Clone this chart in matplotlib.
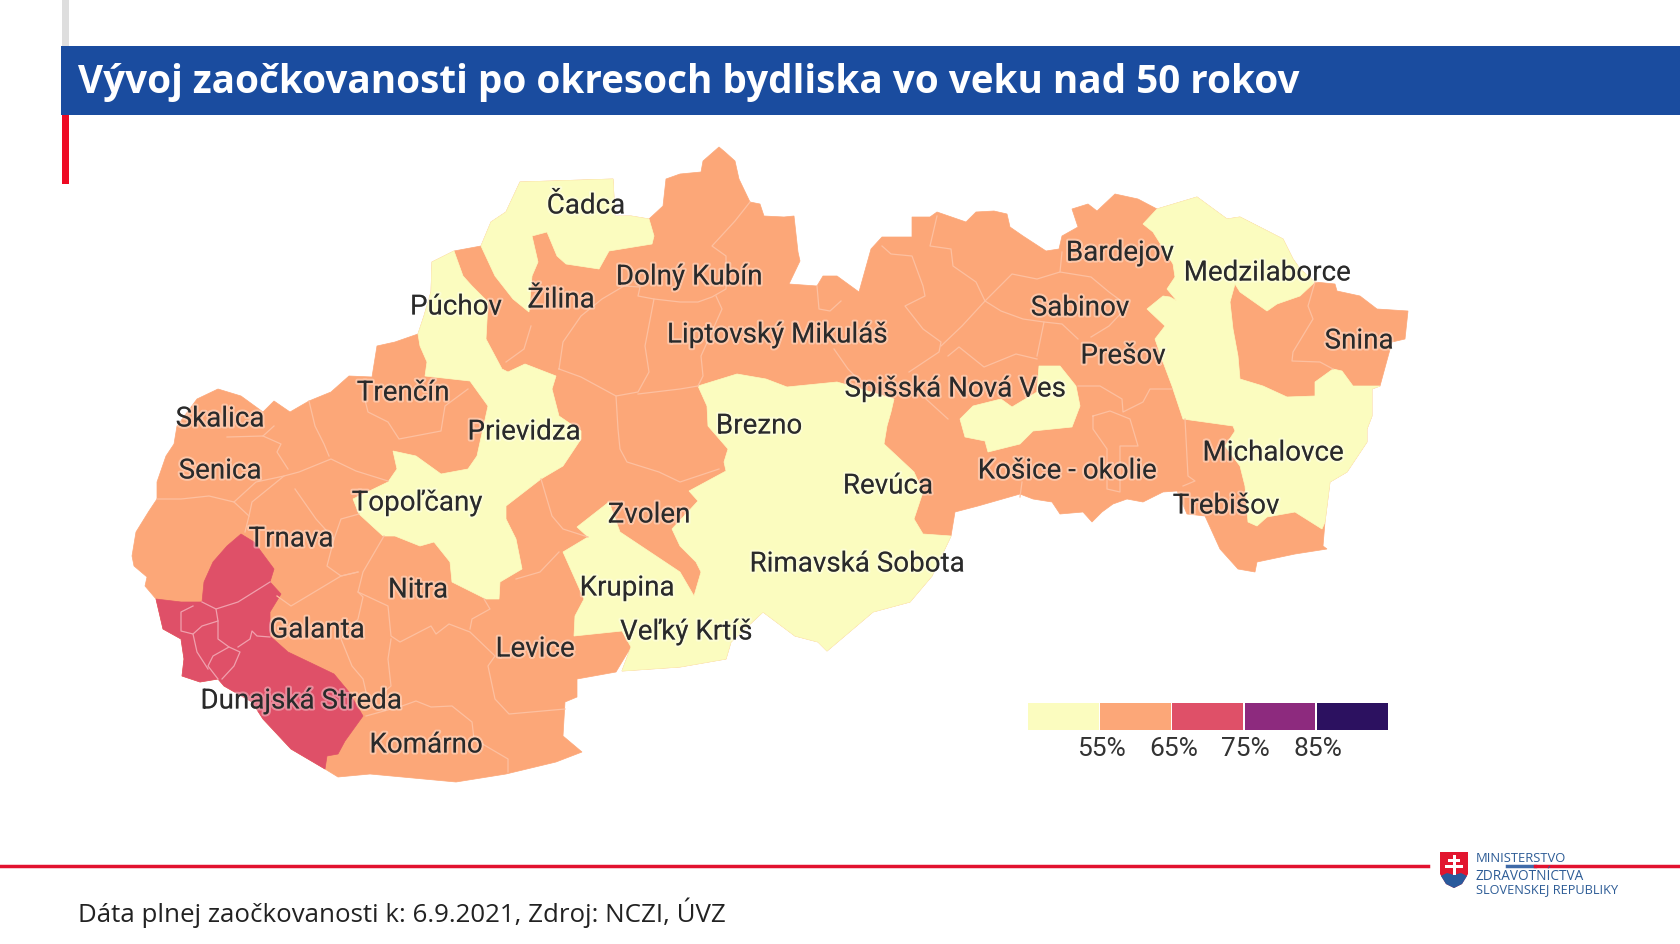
import matplotlib
matplotlib.use("Agg")
import matplotlib.pyplot as plt
import matplotlib.patheffects as pe
from matplotlib.patches import Polygon, Rectangle

plt.rcParams['font.family'] = ['Roboto', 'DejaVu Sans']

title = "Vývoj zaočkovanosti po okresoch bydliska vo veku nad 50 rokov"
source = "Dáta plnej zaočkovanosti k: 6.9.2021, Zdroj: NCZI, ÚVZ"

# legend
bin_colors = ["#fbfcbf", "#fca778", "#df5068", "#8d2a7e", "#2c1160"]
bin_labels = ["55%", "65%", "75%", "85%"]

# map geometry (pixels)
country = [(132,557),(136,533),(149,512),(157,500),(157,483),(166,457),(174,445),(177,427),(197,400),(218,390),
    (241,397),(263,413),(274,402),(290,413),(309,402),(331,393),(349,377),(372,378),(377,347),(395,343),(418,335),
    (424,317),(431,293),(432,263),(454,252),(481,247),(491,223),(506,213),(520,183),(613,180),(615,217),(631,217),
    (649,220),(663,207),(666,180),(680,175),(701,173),(703,162),(719,148),(725,153),(735,162),(739,180),(750,203),
    (760,205),(764,217),(784,218),(794,217),(798,253),(800,262),(789,285),(817,287),(823,277),(837,277),(859,293),
    (871,250),(882,238),(912,238),(912,218),(930,218),(937,213),(966,223),(976,213),(994,212),(1007,215),(1010,228),
    (1023,237),(1046,252),(1059,250),(1062,237),(1078,228),(1072,210),(1088,205),(1097,212),(1115,195),(1138,200),
    (1157,210),(1197,198),(1227,220),(1240,218),(1283,240),(1293,260),(1300,270),(1315,283),(1335,285),(1337,292),
    (1360,297),(1377,310),(1408,312),(1405,340),(1392,343),(1380,387),(1372,390),(1372,417),(1367,430),(1367,443),
    (1347,473),(1330,483),(1325,523),(1323,547),(1327,550),(1295,555),(1257,563),(1255,573),(1238,570),(1220,550),
    (1205,517),(1187,515),(1177,492),(1163,493),(1143,503),(1127,500),(1113,505),(1102,513),(1092,523),(1083,513),
    (1060,515),(1052,503),(1033,500),(1020,495),(978,507),(955,513),(951,537),(932,577),(910,603),(873,613),(827,652),
    (818,643),(795,637),(763,613),(731,643),(726,660),(680,668),(622,672),(631,648),(616,673),(577,680),(577,698),
    (565,703),(563,737),(582,753),(556,763),(506,775),(456,783),(370,775),(338,778),(325,770),(291,750),
    (263,720),(252,703),(224,687),(218,680),(200,683),(182,677),(184,660),(181,640),(163,630),(156,600),(145,587),
    (147,578),(134,567)]

yellow_north = [(481,247),(491,223),(506,213),(520,183),(613,180),(615,217),(631,217),(649,220),(654,237),(652,245),
    (609,252),(599,270),(566,265),(557,257),(547,233),(532,237),(538,263),(532,277),(529,313),(513,300),(495,277)]

yellow_west = [(418,335),(424,317),(431,293),(432,263),(454,252),(463,277),(472,287),(488,303),(486,340),(502,370),
    (508,373),(525,365),(556,377),(552,390),(559,417),(581,432),(581,440),(563,467),(541,480),(506,507),(506,520),
    (516,540),(522,570),(500,583),(499,600),(486,600),(452,583),(450,563),(434,543),(420,547),(395,537),(383,537),
    (359,515),(353,500),(388,483),(397,470),(393,452),(416,457),(441,475),(468,470),(477,457),(488,407),(470,382),
    (425,377),(427,363),(420,347)]

yellow_central = [(698,387),(737,375),(766,380),(787,388),(837,383),(851,387),(894,400),(891,413),(887,427),(884,445),
    (914,473),(923,493),(914,520),(923,535),(951,537),(932,577),(910,603),(873,613),(827,652),(818,643),(795,637),
    (763,613),(731,643),(726,660),(680,668),(622,672),(631,648),(622,632),(574,637),(575,617),(584,600),(563,553),
    (588,538),(577,528),(609,503),(620,533),(656,557),(680,573),(694,597),(701,573),(696,563),(680,547),(672,530),
    (698,502),(689,492),(726,472),(724,463),(728,450),(708,427),(707,407)]

yellow_spis = [(960,420),(973,407),(1001,400),(1012,408),(1037,393),(1039,367),(1060,367),(1076,387),(1080,407),
    (1072,428),(1033,432),(1020,445),(988,453),(985,442),(965,438)]

yellow_east = [(1157,210),(1197,198),(1227,220),(1240,218),(1283,240),(1293,260),(1300,270),(1315,283),(1300,297),
    (1277,305),(1267,312),(1240,293),(1235,285),(1230,303),(1233,330),(1238,357),(1240,380),(1263,387),(1287,398),
    (1315,397),(1315,383),(1333,370),(1342,372),(1353,387),(1380,387),(1372,390),(1372,417),(1367,430),(1367,443),
    (1347,473),(1330,483),(1325,523),(1322,530),(1295,513),(1267,518),(1257,527),(1248,523),(1245,487),(1240,467),
    (1225,447),(1235,432),(1233,427),(1183,420),(1172,387),(1163,363),(1155,340),(1165,327),(1147,310),(1163,297),
    (1170,298),(1177,302),(1167,290),(1175,278),(1173,265),(1153,233),(1143,225)]

red_southwest = [(241,535),(254,543),(274,570),(270,583),(281,595),(270,613),(270,637),(288,653),(309,663),(334,675),
    (349,693),(363,717),(345,742),(338,755),(327,757),(325,770),(291,750),(263,720),(252,703),(224,687),(218,680),
    (200,683),(182,677),(184,660),(181,640),(163,630),(156,600),(181,603),(202,603),(204,583),(213,563),(227,547)]

map_shapes = [country, yellow_north, yellow_west, yellow_central, yellow_spis, yellow_east, red_southwest]
map_bins = [1, 0, 0, 0, 0, 0, 2]

orange_borders = [
    [(750,203),(735,222),(712,247),(726,257),(726,290),(712,298),(698,303),(680,303),(654,300)],
    [(716,297),(722,310),(701,357),(703,377),(698,387)],
    [(817,287),(819,310),(830,312),(841,302)],
    [(834,350),(848,370),(855,377)],
    [(882,247),(891,255),(912,257),(923,287),(925,297),(905,307),(923,330),(941,343),(939,353),(909,373)],
    [(937,217),(930,247),(951,250),(953,267),(976,283),(985,302),(962,327),(941,347)],
    [(985,302),(1012,275),(1037,280),(1060,273),(1062,253)],
    [(1060,273),(1091,278),(1109,293),(1128,307),(1109,327),(1091,338)],
    [(985,302),(1001,312),(1023,320),(1044,323),(1037,357)],
    [(1044,323),(1062,325),(1078,340)],
    [(948,357),(959,348),(984,368),(1016,355),(1037,360)],
    [(926,400),(948,420)],
    [(1078,387),(1100,387),(1122,400),(1123,413),(1143,403),(1150,390),(1172,390)],
    [(1093,417),(1110,412),(1130,420),(1138,447),(1120,447),(1120,493),(1107,490),(1107,450),(1093,430),(1093,417)],
    [(1185,420),(1188,477),(1195,482),(1183,487)],
    [(1315,283),(1308,307),(1313,320),(1293,353),(1292,362),(1320,363),(1333,370)],
    [(157,500),(181,500),(209,497),(234,503),(256,483),(284,477),(299,473),(331,460),(356,472),(388,482)],
    [(234,503),(249,517),(245,533)],
    [(284,477),(252,503),(249,517)],
    [(295,490),(316,520),(334,540),(327,567),(341,577),(358,573)],
    [(359,515),(341,520),(334,540)],
    [(384,537),(363,573),(358,593),(388,607),(391,637),(400,643),(431,627),(436,635),(449,625),(470,633),(495,657),
     (488,667),(495,700),(509,715),(565,710)],
    [(470,630),(472,620),(490,610),(484,600)],
    [(559,553),(540,573),(516,580)],
    [(541,480),(552,517),(563,530),(588,538)],
    [(358,573),(341,577),(291,607),(277,597)],
    [(358,593),(363,598),(358,620),(341,640),(352,667),(363,680),(366,693)],
    [(391,640),(388,660),(391,687),(384,693)],
    [(366,717),(402,707),(416,702),(431,708),(452,707),(472,723),(474,740),(508,760),(508,773)],
    [(309,402),(315,427),(324,445),(329,457)],
    [(363,393),(368,413),(388,423),(399,440),(441,432),(445,407),(468,390)],
    [(227,438),(263,437),(274,427)],
    [(263,437),(281,445),(277,453),(288,470)],
    [(531,327),(524,350),(506,363)],
    [(559,370),(563,343),(581,317),(602,300),(624,287),(640,288),(638,297),(654,300),(645,347),(649,373),(638,393),
     (616,397),(581,378),(559,370)],
    [(616,397),(618,430),(620,450),(627,463),(659,473),(680,483),(719,470)],
    [(638,395),(680,390),(698,387)],
    [(1022,483),(1020,498)],
]

red_borders = [
    [(270,583),(254,593),(238,603),(216,610),(202,603)],
    [(216,610),(218,622),(202,627),(193,635),(181,632),(181,613),(193,607)],
    [(218,622),(218,640),(229,648),(213,657),(208,667),(218,680)],
    [(193,635),(197,653),(208,670)],
    [(229,648),(240,653),(234,667),(222,680)],
    [(270,638),(257,637),(252,632),(250,640),(238,648)],
]

# labels on the map
district_names = ["Čadca", "Dolný Kubín", "Žilina", "Púchov", "Liptovský Mikuláš", "Bardejov", "Medzilaborce",
    "Sabinov", "Snina", "Prešov", "Spišská Nová Ves", "Trenčín", "Skalica", "Prievidza", "Brezno", "Senica",
    "Košice - okolie", "Michalovce", "Revúca", "Topoľčany", "Trebišov", "Zvolen", "Trnava", "Rimavská Sobota",
    "Krupina", "Nitra", "Galanta", "Veľký Krtíš", "Levice", "Dunajská Streda", "Komárno"]
district_x = [586, 689, 561, 456, 777, 1120, 1267, 1080, 1359, 1123, 955, 403, 220, 524, 759, 220, 1067, 1273, 888,
    417, 1226, 649, 291, 857, 627, 418, 317, 686, 535, 301, 426]
district_y = [207, 278, 301, 308, 336, 254, 274, 309, 342, 357, 390, 394, 420, 433, 427, 472, 472, 454, 487, 504,
    507, 516, 540, 565, 589, 591, 631, 633, 650, 702, 746]

fig = plt.figure(figsize=(16.8, 9.45), dpi=100)
ax = fig.add_axes([0, 0, 1, 1])
ax.set_xlim(0, 1680)
ax.set_ylim(945, 0)
ax.axis("off")

# slide frame
ax.add_patch(Rectangle((62, 0), 7, 47, color="#dedede", lw=0))
ax.add_patch(Rectangle((62, 116), 7, 69, color="#ee0a24", lw=0))
ax.add_patch(Rectangle((61, 47), 1619, 69, color="#1a4c9f", lw=0))
ax.text(78, 82, title, color="white", fontsize=27.8, fontweight="bold", family=["Open Sans", "DejaVu Sans"],
        va="center", ha="left")

# map
for shape, b in zip(map_shapes, map_bins):
    ax.add_patch(Polygon(shape, closed=True, facecolor=bin_colors[b], edgecolor=bin_colors[b], lw=0.5))
for line in orange_borders:
    ax.plot([p[0] for p in line], [p[1] for p in line], color="#fdc0a0", lw=0.9)
for line in red_borders:
    ax.plot([p[0] for p in line], [p[1] for p in line], color="#f0a0ad", lw=0.9)

halo = [pe.withStroke(linewidth=3, foreground=(1, 1, 1, 0.35))]
for name, x, y in zip(district_names, district_x, district_y):
    ax.text(x, y, name, fontsize=20, color="#2a2a2a", ha="center", va="center", path_effects=halo)

# legend
swatch_w = 72.2
for i, c in enumerate(bin_colors):
    ax.add_patch(Rectangle((1028 + i * swatch_w, 704), swatch_w - 1.5, 27, color=c, lw=0))
for i, lab in enumerate(bin_labels):
    ax.text(1029 + (i + 1) * swatch_w, 749, lab, fontsize=19, color="#333333", ha="center", va="center")

# footer
ax.plot([0, 1428], [867, 867], color="#e2122f", lw=2.5)
ax.plot([1507, 1535], [867, 867], color="#3f6aa8", lw=2.5)
ax.plot([1535, 1680], [867, 867], color="#e2122f", lw=2.5)
ax.text(78, 913, source, fontsize=18.6, color="#222222", family=["Open Sans", "DejaVu Sans"], va="center", ha="left")

# ministry logo
ax.add_patch(Polygon([(1440, 853), (1468, 853), (1468, 875), (1462, 885), (1454, 889), (1446, 885), (1440, 875)],
                     closed=True, facecolor="#e2162f", lw=0))
ax.add_patch(Polygon([(1441, 877), (1447, 874), (1454, 876), (1461, 874), (1467, 877), (1462, 885), (1454, 889),
                      (1446, 885)], closed=True, facecolor="#2a5a9c", lw=0))
ax.add_patch(Rectangle((1452.5, 856), 3, 20, color="white", lw=0))
ax.add_patch(Rectangle((1448, 860), 12, 2.5, color="white", lw=0))
ax.add_patch(Rectangle((1445, 866), 18, 2.5, color="white", lw=0))
logo_font = ["Open Sans", "DejaVu Sans"]
ax.text(1476, 858, "MINISTERSTVO", fontsize=9.4, color="#2d5c96", family=logo_font, va="center")
ax.text(1476, 877, "ZDRAVOTNÍCTVA", fontsize=9.8, color="#2d5c96", family=logo_font, va="center")
ax.text(1476, 890, "SLOVENSKEJ REPUBLIKY", fontsize=9.2, color="#2d5c96", family=logo_font, va="center")

fig.savefig("out.png", dpi=100)
